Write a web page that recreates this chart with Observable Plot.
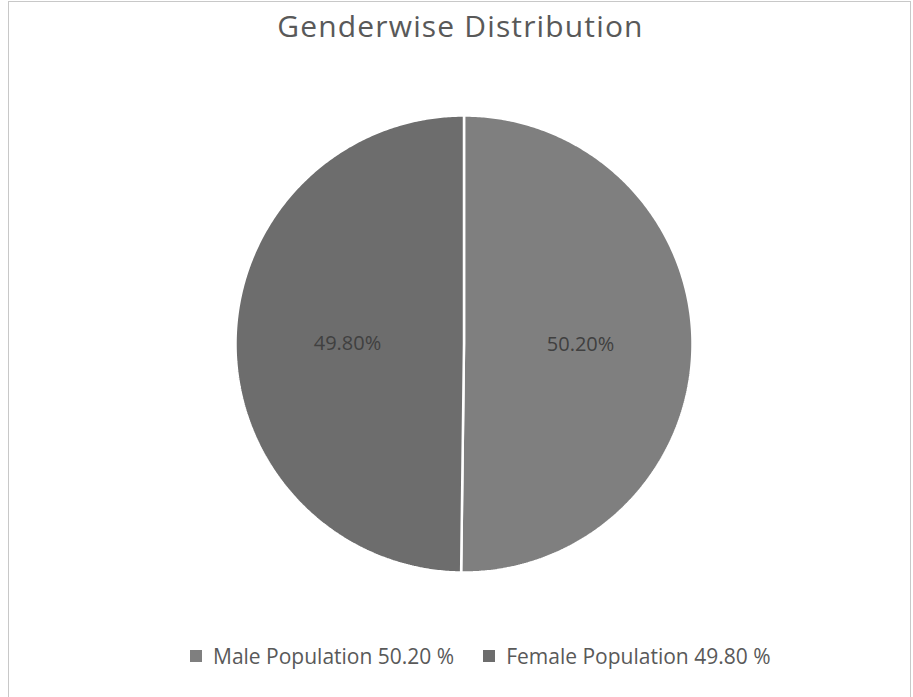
<!DOCTYPE html>
<html>
<head>
<meta charset="utf-8">
<script src="https://cdn.jsdelivr.net/npm/d3@7"></script>
<script src="https://cdn.jsdelivr.net/npm/@observablehq/plot@0.6"></script>
<style>
  html, body { margin: 0; padding: 0; background: #fff; }
  #wrap { position: relative; width: 913px; height: 697px; overflow: hidden; font-family: "Open Sans", sans-serif; }
  #frame { position: absolute; left: 8px; top: 1px; width: 903px; height: 700px; border: 1px solid #c8c8c8; box-sizing: border-box; }
  #title { position: absolute; left: 0; width: 913px; top: 5px; text-align: center; font-size: 30px; letter-spacing: 1.15px; color: #595959; padding-left: 8px; box-sizing: border-box; line-height: normal; }
  #chart { position: absolute; left: 235px; top: 115px; }
  #legend { position: absolute; left: 190px; top: 642px; font-size: 21px; color: #595959; display: flex; align-items: center; white-space: nowrap; line-height: normal; }
  .item { display: flex; align-items: center; margin-right: 29px; }
  .sw { display: inline-block; width: 12px; height: 12px; margin-right: 11px; }
</style>
</head>
<body>
<div id="wrap">
  <div id="frame"></div>
  <div id="title"></div>
  <div id="chart"></div>
  <div id="legend"></div>
</div>
<script>
const title = "Genderwise Distribution";
const categories = ["Male", "Female"];
const values = [50.20, 49.80];
const sliceLabels = ["50.20%", "49.80%"];
const legendLabels = ["Male Population 50.20 %", "Female Population 49.80 %"];
const colors = ["#7f7f7f", "#6d6d6d"];

document.getElementById("title").textContent = title;

const data = categories.map((c, i) => ({category: c, value: values[i], label: sliceLabels[i]}));
const pie = d3.pie().sort(null).value(d => d.value);
const arcs = pie(data);

const poly = [];
arcs.forEach(a => {
  const n = Math.max(2, Math.ceil((a.endAngle - a.startAngle) / (Math.PI / 360)));
  poly.push({category: a.data.category, x: 0, y: 0});
  for (let k = 0; k <= n; k++) {
    const t = a.startAngle + (a.endAngle - a.startAngle) * k / n;
    poly.push({category: a.data.category, x: Math.sin(t), y: -Math.cos(t)});
  }
  poly.push({category: a.data.category, x: 0, y: 0});
});
const labelPts = arcs.map(a => {
  const m = (a.startAngle + a.endAngle) / 2;
  return {category: a.data.category, label: a.data.label, x: 0.51 * Math.sin(m), y: -0.51 * Math.cos(m)};
});

const S = 457;
const chart = Plot.plot({
  width: S, height: S,
  margin: 0,
  x: {domain: [-1, 1], range: [0, S], axis: null},
  y: {domain: [-1, 1], range: [0, S], axis: null},
  color: {domain: categories, range: colors},
  marks: [
    Plot.line(poly, {x: "x", y: "y", z: "category", fill: "category", stroke: "white", strokeWidth: 2.5, strokeLinejoin: "miter", curve: "linear-closed"}),
    Plot.text(labelPts, {x: "x", y: "y", text: "label", fill: "#404040", fontSize: 20, fontFamily: "Open Sans"})
  ],
  style: {overflow: "visible", background: "transparent"}
});
document.getElementById("chart").appendChild(chart);

const legend = document.getElementById("legend");
categories.forEach((c, i) => {
  const span = document.createElement("span");
  span.className = "item";
  const sw = document.createElement("span");
  sw.className = "sw";
  sw.style.background = colors[i];
  span.appendChild(sw);
  span.appendChild(document.createTextNode(legendLabels[i]));
  legend.appendChild(span);
});
</script>
</body>
</html>
